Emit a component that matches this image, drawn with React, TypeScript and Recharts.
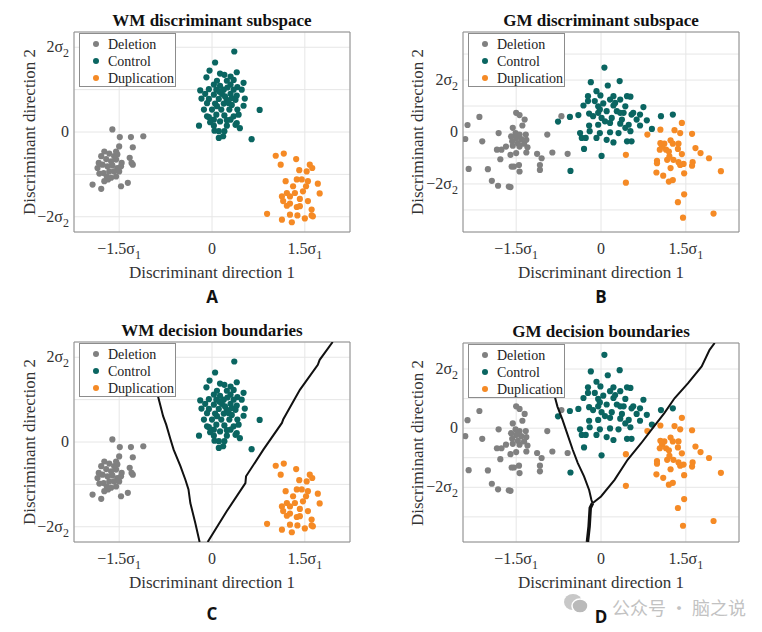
import React from 'react';
import { ScatterChart, Scatter, XAxis, YAxis, CartesianGrid, Legend, ReferenceArea } from 'recharts';

// values in units of sigma (x: σ1, y: σ2)
const wmDeletion = [
  [-1.61, 0.06], [-1.49, -0.12], [-1.31, -0.12], [-1.11, -0.1], [-1.28, -0.36], [-1.5, -0.34],
  [-1.74, -0.46], [-1.66, -0.51], [-1.58, -0.57], [-1.53, -0.53], [-1.79, -0.57], [-1.71, -0.64],
  [-1.63, -0.69], [-1.55, -0.65], [-1.46, -0.73], [-1.33, -0.61], [-1.3, -0.73], [-1.28, -0.77],
  [-1.83, -0.73], [-1.77, -0.77], [-1.69, -0.81], [-1.61, -0.79], [-1.53, -0.85], [-1.75, -0.97],
  [-1.82, -0.98], [-1.66, -0.93], [-1.58, -0.93], [-1.5, -0.93], [-1.7, -1.05], [-1.63, -1.08],
  [-1.55, -1.05], [-1.74, -1.16], [-1.47, -1.28], [-1.36, -1.2], [-1.93, -1.24], [-1.79, -1.34],
  [-1.68, -1.12], [-1.85, -0.85], [-1.47, -0.81], [-1.55, -0.46],
];
const wmControl = [
  [0.36, 1.9], [0.05, 1.64], [-0.04, 1.45], [0.13, 1.38], [0.4, 1.41], [-0.09, 1.29], [0.2, 1.35],
  [0.3, 1.31], [0.08, 1.21], [0.24, 1.21], [0.35, 1.23], [0.51, 1.16], [0.03, 1.12], [0.13, 1.09],
  [0.3, 1.12], [0.41, 1.06], [-0.19, 0.98], [-0.05, 1.01], [0.07, 1.0], [0.19, 1.0], [0.35, 1.0],
  [0.48, 1.0], [-0.11, 0.9], [0.03, 0.88], [0.16, 0.9], [0.3, 0.9], [0.4, 0.86], [0.53, 0.79],
  [-0.17, 0.79], [-0.05, 0.78], [0.11, 0.78], [0.24, 0.76], [0.38, 0.76], [-0.08, 0.68], [0.05, 0.67],
  [0.19, 0.67], [0.32, 0.64], [0.51, 0.62], [0.77, 0.52], [-0.13, 0.53], [0.0, 0.53], [0.15, 0.53],
  [0.28, 0.53], [0.41, 0.53], [-0.08, 0.37], [0.07, 0.41], [0.2, 0.39], [0.35, 0.37], [0.03, 0.29],
  [0.3, 0.29], [-0.03, 0.23], [0.13, 0.25], [0.4, 0.21], [-0.21, 0.15], [0.03, 0.15], [0.24, 0.15],
  [0.45, 0.09], [0.11, 0.02], [0.2, 0.02], [0.38, 0.17], [0.11, -0.14], [0.18, -0.1], [0.64, -0.17],
  [0.04, 0.03], [-0.05, 0.35], [0.24, 0.28], [0.21, 0.84], [0.32, 0.8], [0.27, 0.68], [0.08, 0.61],
  [0.43, 0.41], [0.25, 1.05], [0.12, 0.95],
];
const wmDuplication = [
  [1.03, -0.56], [1.16, -0.51], [1.36, -0.64], [1.11, -0.77], [1.58, -0.77], [1.41, -0.9], [1.53, -0.93],
  [1.19, -1.16], [1.37, -1.12], [1.45, -1.12], [1.55, -1.16], [1.71, -1.22], [1.31, -1.28], [1.52, -1.28],
  [1.21, -1.44], [1.34, -1.44], [1.47, -1.4], [1.74, -1.45], [1.13, -1.52], [1.26, -1.52], [1.42, -1.58],
  [1.55, -1.63], [1.15, -1.63], [1.21, -1.74], [1.37, -1.77], [1.42, -1.75], [0.89, -1.93], [1.26, -1.95],
  [1.38, -1.97], [1.61, -1.97], [1.13, -2.07], [1.29, -2.13], [1.5, -2.04], [1.63, -1.99], [1.26, -1.69],
  [1.61, -1.83], [1.62, -0.85],
];
const gmDeletion = [
  [-2.15, 0.58], [-2.36, 0.27], [-2.4, -0.27], [-2.1, -0.36], [-1.81, -0.04], [-1.5, 0.74], [-1.44, 0.65],
  [-1.35, 0.48], [-1.56, 0.16], [-1.39, 0.25], [-1.51, -0.04], [-1.44, -0.1], [-1.33, -0.1], [-1.59, -0.17],
  [-1.5, -0.23], [-1.41, -0.27], [-1.32, -0.3], [-1.57, -0.36], [-1.47, -0.43], [-1.36, -0.45], [-1.56, -0.53],
  [-1.44, -0.56], [-1.3, -0.59], [-1.68, -0.56], [-1.84, -0.68], [-1.76, -0.68], [-1.6, -0.88], [-1.5, -0.81],
  [-1.32, -0.79], [-1.78, -1.05], [-1.13, -0.84], [-1.05, -1.01], [-1.08, -1.27], [-0.95, -0.1], [-0.86, -0.79],
  [-0.59, -0.84], [-0.7, 0.61], [-2.34, -1.42], [-2.0, -1.43], [-1.58, -1.33], [-1.54, -1.33], [-1.44, -1.52],
  [-1.08, -1.46], [-1.93, -1.88], [-1.82, -2.07], [-1.63, -2.1], [-1.6, -2.12], [-1.45, -1.27],
];
const gmControl = [
  [0.06, 2.48], [-0.18, 1.92], [0.12, 1.79], [0.33, 1.96], [-0.08, 1.57], [-0.23, 1.38], [-0.01, 1.41],
  [0.22, 1.38], [0.46, 1.38], [-0.23, 1.19], [-0.11, 1.19], [0.16, 1.25], [0.34, 1.25], [0.52, 1.36],
  [-0.31, 1.02], [-0.05, 0.99], [0.04, 1.1], [0.22, 1.02], [0.43, 0.99], [0.75, 0.96], [-0.21, 0.71],
  [-0.05, 0.74], [0.1, 0.8], [0.28, 0.8], [0.4, 0.74], [0.54, 0.67], [0.69, 0.67], [-0.4, 0.65],
  [-0.55, 0.58], [-0.76, 0.4], [-0.14, 0.61], [0.01, 0.54], [0.19, 0.54], [0.37, 0.48], [0.63, 0.48],
  [0.81, 0.45], [1.06, 0.61], [1.27, 0.67], [-0.21, 0.25], [-0.05, 0.28], [0.16, 0.35], [0.34, 0.32],
  [0.49, 0.28], [0.69, 0.25], [0.9, 0.12], [-0.37, -0.04], [-0.2, 0.03], [-0.02, -0.04], [0.16, -0.01],
  [0.31, -0.04], [0.52, 0.03], [-0.34, -0.23], [-0.27, -0.23], [-0.08, -0.23], [0.1, -0.3], [0.22, -0.4],
  [0.46, -0.36], [0.54, -0.36], [-0.3, -0.65], [0.01, -0.92], [-0.54, -1.5], [0.34, 0.74], [-0.02, 0.87],
  [0.57, 0.74], [0.25, 1.12], [0.07, 0.41], [0.43, 0.16],
];
const gmDuplication = [
  [1.43, 0.35], [1.05, 0.09], [1.3, 0.07], [1.61, -0.07], [0.82, -0.1], [1.4, -0.04], [1.23, -0.32],
  [1.12, -0.45], [1.27, -0.45], [1.37, -0.45], [1.08, -0.56], [1.15, -0.68], [1.04, -0.68], [1.2, -0.75],
  [1.36, -0.65], [1.67, -0.62], [1.76, -0.81], [1.43, -0.85], [0.44, -0.88], [0.99, -1.11], [1.17, -1.07],
  [1.28, -1.07], [1.37, -1.16], [1.46, -1.23], [1.62, -1.16], [1.91, -1.01], [0.99, -1.2], [1.23, -1.39],
  [1.4, -1.27], [1.61, -1.3], [1.1, -1.68], [0.98, -1.56], [1.47, -1.59], [2.12, -1.51], [1.2, -1.91],
  [1.27, -1.85], [0.44, -1.95], [1.47, -2.4], [1.36, -2.7], [1.99, -3.14], [1.45, -3.3], [1.05, -0.43],
  [1.21, -0.94],
];

// decision boundaries (step-like polylines)
const wmBoundaryLeft = [
  [-0.88, 1.12], [-0.83, 0.84], [-0.79, 0.61], [-0.74, 0.41], [-0.67, 0.06], [-0.62, -0.18], [-0.51, -0.57],
  [-0.43, -0.89], [-0.38, -1.12], [-0.35, -1.44], [-0.27, -1.91], [-0.2, -2.36],
];
const wmBoundaryRight = [
  [-0.07, -2.36], [0.24, -1.63], [0.54, -0.97], [0.55, -0.81], [0.83, -0.18], [1.13, 0.45], [1.15, 0.53],
  [1.42, 1.23], [1.71, 1.82], [1.74, 1.94], [1.95, 2.36],
];
const gmBoundaryLeft = [
  [-0.82, 1.09], [-0.77, 0.73], [-0.68, 0.28], [-0.62, -0.06], [-0.5, -0.73], [-0.41, -1.18], [-0.3, -1.63],
  [-0.21, -2.09], [-0.17, -2.42], [-0.15, -2.54],
];
const gmBoundaryRight = [
  [-0.15, -2.54], [0.0, -2.31], [0.24, -1.75], [0.47, -1.07], [0.71, -0.51], [0.89, -0.06], [1.12, 0.51],
  [1.3, 1.01], [1.54, 1.52], [1.78, 2.09], [1.92, 2.65], [2.01, 2.88],
];
const gmBoundaryStem = [[-0.15, -2.54], [-0.19, -2.7], [-0.21, -3.32], [-0.24, -3.85]];

const xTicks = [-1.5, 0, 1.5];
const wmYTicks = [-2, -1, 0, 1, 2];
const gmYTicks = [-3, -2, -1, 0, 1, 2, 3];
const gmBoundYTicks = [-3, -2, -1, 0, 1, 2];
const groupOrder = ['Deletion', 'Control', 'Duplication'];

const SERIF = '"Liberation Serif", "Times New Roman", serif';
const GRAY = '#808080';
const TEAL = '#0a6561';
const ORANGE = '#f58a25';

const pts = (a: number[][]) => a.map(([x, y]) => ({ x, y }));

function XTick({ x, y, payload }: any) {
  const v = payload.value;
  const main = v === 0 ? '0' : `${v < 0 ? '\u2212' : ''}${Math.abs(v)}\u03c3`;
  return (
    <text x={x} y={y + 22} textAnchor="middle" fontFamily={SERIF} fontSize={16} fill="#333">
      {main}
      {v !== 0 && <tspan dy={5} fontSize={12}>1</tspan>}
    </text>
  );
}

function YTick({ x, y, payload }: any) {
  const v = payload.value;
  if (v !== 0 && Math.abs(v) !== 2) return <g />;
  const main = v === 0 ? '0' : `${v < 0 ? '\u2212' : ''}${Math.abs(v)}\u03c3`;
  return (
    <text x={x - 5} y={y + 5} textAnchor="end" fontFamily={SERIF} fontSize={16} fill="#333">
      {main}
      {v !== 0 && <tspan dy={5} fontSize={12}>2</tspan>}
    </text>
  );
}

const legendColors: Record<string, string> = { Deletion: GRAY, Control: TEAL, Duplication: ORANGE };

function LegendBox({ payload }: any) {
  const items = (payload || [])
    .filter((p: any) => legendColors[p.value])
    .sort((a: any, b: any) => groupOrder.indexOf(a.value) - groupOrder.indexOf(b.value));
  return (
    <div style={{ width: 95, height: 50, border: '1px solid #8c8c8c', background: '#fff', paddingTop: 1.5, boxSizing: 'content-box', fontFamily: SERIF, fontSize: 14, color: '#222' }}>
      {items.map((p: any) => (
        <div key={p.value} style={{ display: 'flex', alignItems: 'center', height: 17, lineHeight: '17px', fontFamily: SERIF }}>
          <span style={{ display: 'inline-block', width: 6, height: 6, borderRadius: 3, background: legendColors[p.value], marginLeft: 13, marginRight: 9 }} />
          {p.value}
        </div>
      ))}
    </div>
  );
}

type PanelProps = {
  left: number; top: number; width: number; height: number;
  plot: { l: number; t: number; r: number; b: number };
  xDomain: [number, number]; yDomain: [number, number]; yTicks: number[];
  del: number[][]; ctl: number[][]; dup: number[][];
  lines?: { data: number[][]; w: number }[];
  title: string; letter: string; letterGap: number; legendPos: { left: number; top: number };
};

function Panel(p: PanelProps) {
  const { plot } = p;
  const yAxisW = 40;
  const xAxisH = 30;
  const dot = (color: string) => (s: any) => <circle cx={s.cx} cy={s.cy} r={3.1} fill={color} />;
  const cx = (plot.l + plot.r) / 2;
  const cy = (plot.t + plot.b) / 2;
  return (
    <div style={{ position: 'absolute', left: p.left, top: p.top, width: p.width, height: p.height }}>
      <ScatterChart
        width={p.width}
        height={p.height}
        margin={{ top: plot.t, left: plot.l - yAxisW, right: p.width - plot.r, bottom: p.height - plot.b - xAxisH }}
      >
        <CartesianGrid stroke="#e6e6e6" />
        <XAxis type="number" dataKey="x" domain={p.xDomain} ticks={xTicks} allowDataOverflow height={xAxisH}
          axisLine={false} tickLine={false} tickSize={0} tickMargin={0} tick={<XTick />} interval={0} />
        <YAxis type="number" dataKey="y" domain={p.yDomain} ticks={p.yTicks} allowDataOverflow width={yAxisW}
          axisLine={false} tickLine={false} tickSize={0} tickMargin={0} tick={<YTick />} interval={0} />
        <Legend layout="vertical" align="center" verticalAlign="middle" content={<LegendBox />}
          wrapperStyle={{ left: p.legendPos.left, top: p.legendPos.top, width: 'auto' }} />
        <Scatter name="Deletion" data={pts(p.del)} fill={GRAY} shape={dot(GRAY)} isAnimationActive={false} />
        <Scatter name="Control" data={pts(p.ctl)} fill={TEAL} shape={dot(TEAL)} isAnimationActive={false} />
        <Scatter name="Duplication" data={pts(p.dup)} fill={ORANGE} shape={dot(ORANGE)} isAnimationActive={false} />
        {(p.lines || []).map((ln, i) => (
          <Scatter key={i} name={`boundary${i}`} data={pts(ln.data)} fill="#111" legendType="none"
            line={{ stroke: '#111', strokeWidth: ln.w }} shape={() => <g />} isAnimationActive={false} />
        ))}
        <ReferenceArea x1={p.xDomain[0]} x2={p.xDomain[1]} y1={p.yDomain[0]} y2={p.yDomain[1]}
          fill="none" fillOpacity={0} stroke="#8c8c8c" strokeWidth={1} />
      </ScatterChart>
      <div style={{ position: 'absolute', left: plot.l - 60, width: plot.r - plot.l + 120, top: plot.t - 21, textAlign: 'center', fontFamily: SERIF, fontWeight: 700, fontSize: 17, lineHeight: '20px', color: '#111' }}>
        {p.title}
      </div>
      <div style={{ position: 'absolute', left: plot.l - 40, width: plot.r - plot.l + 80, top: plot.b + 32, textAlign: 'center', fontFamily: SERIF, fontSize: 17, lineHeight: '18px', color: '#333' }}>
        Discriminant direction 1
      </div>
      <div style={{ position: 'absolute', left: (p.left === 0 ? 30 : 38) - 100, top: cy - 10, width: 200, textAlign: 'center', transform: 'rotate(-90deg)', fontFamily: SERIF, fontSize: 17, lineHeight: '20px', color: '#333' }}>
        Discriminant direction 2
      </div>
      <div style={{ position: 'absolute', left: cx - 20, width: 40, top: plot.b + p.letterGap, textAlign: 'center', fontFamily: '"Open Sans", sans-serif', fontWeight: 700, fontSize: 17, lineHeight: '16px', color: '#111' }}>
        {p.letter}
      </div>
    </div>
  );
}

export default function App() {
  const wmX: [number, number] = [-2.23, 2.23];
  const wmY: [number, number] = [-2.36, 2.36];
  const gmX: [number, number] = [-2.44, 2.44];
  return (
    <div style={{ position: 'absolute', left: 0, top: 0, width: 762, height: 632, background: '#fff', overflow: 'hidden' }}>
      <Panel left={0} top={0} width={380} height={310} plot={{ l: 74, t: 32, r: 350, b: 232 }}
        xDomain={wmX} yDomain={wmY} yTicks={wmYTicks} del={wmDeletion} ctl={wmControl} dup={wmDuplication}
        title="WM discriminant subspace" letter="A" letterGap={57} legendPos={{ left: 79, top: 33 }} />
      <Panel left={380} top={0} width={382} height={310} plot={{ l: 83, t: 32, r: 359, b: 232 }}
        xDomain={gmX} yDomain={[-3.85, 3.85]} yTicks={gmYTicks} del={gmDeletion} ctl={gmControl} dup={gmDuplication}
        title="GM discriminant subspace" letter="B" letterGap={57} legendPos={{ left: 88, top: 33 }} />
      <Panel left={0} top={310} width={380} height={322} plot={{ l: 74, t: 32, r: 350, b: 232 }}
        xDomain={wmX} yDomain={wmY} yTicks={wmYTicks} del={wmDeletion} ctl={wmControl} dup={wmDuplication}
        lines={[{ data: wmBoundaryLeft, w: 2 }, { data: wmBoundaryRight, w: 2 }]}
        title="WM decision boundaries" letter="C" letterGap={64} legendPos={{ left: 79, top: 33 }} />
      <Panel left={380} top={310} width={382} height={322} plot={{ l: 83, t: 33, r: 359, b: 232 }}
        xDomain={gmX} yDomain={[-3.85, 2.88]} yTicks={gmBoundYTicks} del={gmDeletion} ctl={gmControl} dup={gmDuplication}
        lines={[{ data: gmBoundaryLeft, w: 2 }, { data: gmBoundaryRight, w: 2 }, { data: gmBoundaryStem, w: 3.5 }]}
        title="GM decision boundaries" letter="D" letterGap={67} legendPos={{ left: 88, top: 34 }} />
      <svg width={28} height={22} style={{ position: 'absolute', left: 562, top: 593 }}>
        <ellipse cx={11} cy={9} rx={9} ry={8} fill="#c8c8c8" />
        <ellipse cx={18} cy={13} rx={8} ry={7} fill="#bababa" stroke="#fff" strokeWidth={1.5} />
      </svg>
      <div style={{ position: 'absolute', left: 612, top: 594, color: '#c2c2c2', fontFamily: '"Noto Sans CJK SC", sans-serif', fontSize: 18, lineHeight: '26px', whiteSpace: 'nowrap' }}>
        公众号 · 脑之说
      </div>
    </div>
  );
}
